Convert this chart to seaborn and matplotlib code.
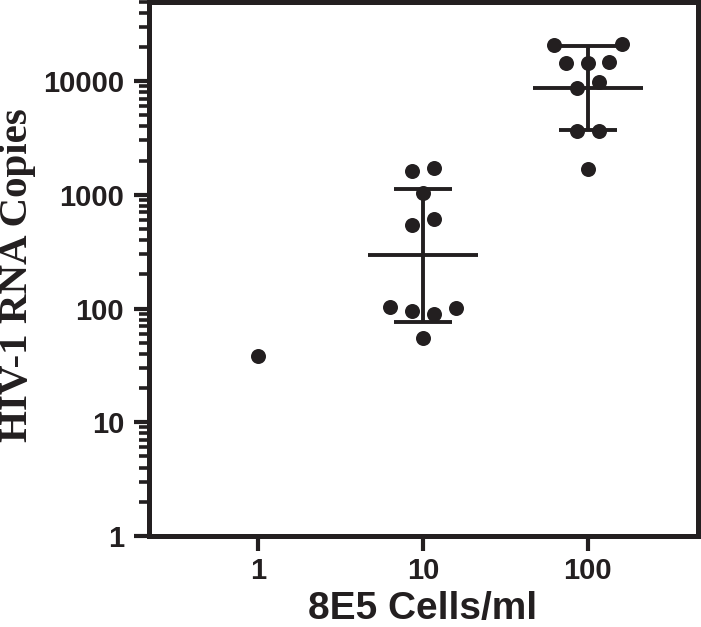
import numpy as np
import pandas as pd
import matplotlib
matplotlib.use("Agg")
import matplotlib.pyplot as plt
from matplotlib.ticker import FixedLocator, FuncFormatter, LogLocator, NullLocator, NullFormatter
import seaborn as sns

# ---- data ----
cells = [1, 10, 100]
copies_1 = [38]
copies_10 = [1630, 1710, 1030, 540, 610, 104, 95, 89, 102, 55]
copies_100 = [20700, 21200, 14300, 14300, 14600, 8700, 9900, 3600, 3600, 1700]
y_ticks = [1, 10, 100, 1000, 10000]
x_ticks = [1, 10, 100]
x_label = "8E5 Cells/ml"
y_label = "HIV-1 RNA Copies"

groups = [copies_1, copies_10, copies_100]

ink = "#231F20"

sns.set_style("ticks")
plt.rcParams["font.family"] = ["Liberation Sans", "DejaVu Sans"]
plt.rcParams["font.weight"] = "bold"

W, H = 701, 627
DPI = 100
fig = plt.figure(figsize=(W / DPI, H / DPI), dpi=DPI)
left, right, top, bottom = 148.5, 697.5, 1.5, 536.0
ax = fig.add_axes([left / W, (H - bottom) / H, (right - left) / W, (bottom - top) / H])
ax.set_xscale("log")
ax.set_yscale("log")
ax.set_xlim(10 ** (-2 / 3), 10 ** (8 / 3))
ax.set_ylim(1, 5e4)

# ---- scatter-dot layout: points of similar value share a row, spread symmetrically ----
dot_pt = 10.8
dot_px = dot_pt * DPI / 72
spacing_px = 21.7
clear_px = 21.9


def row_positions(x, vals):
    vals = np.asarray(vals, dtype=float)
    n = len(vals)
    disp = ax.transData.transform(np.column_stack([np.full(n, float(x)), vals]))
    order = np.argsort(disp[:, 1], kind="stable")[::-1]  # top to bottom
    rows, cur, start = [], [], None
    for i in order:
        if cur and abs(disp[i, 1] - start) < dot_px:
            cur.append(i)
        else:
            if cur:
                rows.append(cur)
            cur, start = [i], disp[i, 1]
    rows.append(cur)
    offs = np.zeros(n)
    placed = []
    for r in sorted(rows, key=lambda r: -len(r)):
        r = sorted(r)
        ry = disp[r, 1].mean()
        base = np.array([(k - (len(r) - 1) / 2) * spacing_px for k in range(len(r))])
        extra = 0.0
        for _ in range(200):
            cand = base + np.sign(base) * extra
            ok = all(np.hypot(c - px, ry - py) >= clear_px
                     for c in cand for (px, py) in placed)
            if ok:
                break
            extra += 0.5
        for k, i in enumerate(r):
            offs[i] = cand[k]
            placed.append((cand[k], ry))
    disp[:, 0] += offs
    return ax.transData.inverted().transform(disp)[:, 0]


xs, ys = [], []
for x, vals in zip(cells, groups):
    xs.extend(row_positions(x, vals))
    ys.extend(vals)
df = pd.DataFrame({"pos": xs, "copies": np.asarray(ys, dtype=float)})

sns.scatterplot(data=df, x="pos", y="copies", color=ink, s=dot_pt ** 2,
                linewidth=0, ax=ax, zorder=3, legend=False)

# geometric mean +/- geometric SD
w_mean, w_cap = 1 / 3, 0.176
lw = 2.8
for x, vals in zip(cells, groups):
    if len(vals) < 2:
        continue
    lg = np.log10(vals)
    m, s = lg.mean(), lg.std(ddof=1)
    ax.hlines(10 ** m, x * 10 ** -w_mean, x * 10 ** w_mean, color=ink, lw=lw, zorder=4)
    ax.vlines(x, 10 ** (m - s), 10 ** (m + s), color=ink, lw=lw, zorder=4)
    ax.hlines([10 ** (m - s), 10 ** (m + s)], x * 10 ** -w_cap, x * 10 ** w_cap,
              color=ink, lw=lw, zorder=4)

ax.set_xlim(10 ** (-2 / 3), 10 ** (8 / 3))
ax.set_ylim(1, 5e4)

ax.xaxis.set_major_locator(FixedLocator(x_ticks))
ax.xaxis.set_minor_locator(NullLocator())
ax.xaxis.set_major_formatter(FuncFormatter(lambda v, p: f"{v:g}"))
ax.yaxis.set_major_locator(FixedLocator(y_ticks))
ax.yaxis.set_minor_locator(LogLocator(base=10, subs=range(2, 10), numticks=20))
ax.yaxis.set_minor_formatter(NullFormatter())
ax.yaxis.set_major_formatter(FuncFormatter(lambda v, p: f"{v:g}"))

ax.tick_params(axis="both", which="major", direction="out", length=10.5, width=3,
               color=ink, labelcolor=ink, labelsize=21)
ax.tick_params(axis="x", which="major", pad=4.5)
ax.tick_params(axis="y", which="major", pad=7)
ax.tick_params(axis="y", which="minor", direction="out", length=7.5, width=2.6, color=ink)
for lbl in ax.get_xticklabels() + ax.get_yticklabels():
    lbl.set_fontweight("bold")

for sp in ax.spines.values():
    sp.set_visible(True)
    sp.set_linewidth(3.6)
    sp.set_color(ink)

ax.set_xlabel(x_label, fontsize=28, fontweight="bold", color=ink, va="baseline")
ax.xaxis.set_label_coords(0.5, (bottom - 618.5) / (bottom - top))
ax.set_ylabel(y_label, fontsize=29.5, fontweight="bold", color=ink,
              family=["Liberation Serif", "DejaVu Serif"], va="baseline",
              rotation_mode="anchor")
ax.yaxis.set_label_coords((27 - left) / (right - left), (bottom - 275.5) / (bottom - top))

fig.savefig("out.png", dpi=DPI)
